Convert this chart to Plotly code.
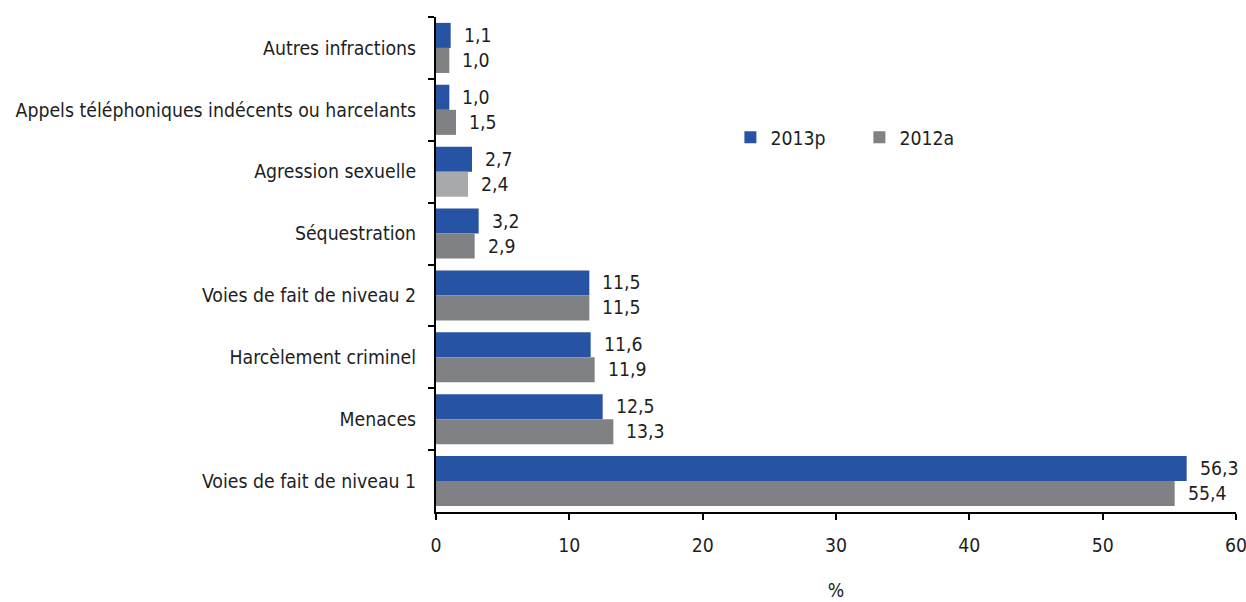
import plotly.graph_objects as go

# Categories from top to bottom
categories = [
    "Autres infractions",
    "Appels téléphoniques indécents ou harcelants",
    "Agression sexuelle",
    "Séquestration",
    "Voies de fait de niveau 2",
    "Harcèlement criminel",
    "Menaces",
    "Voies de fait de niveau 1",
]
values_2013p = [1.1, 1.0, 2.7, 3.2, 11.5, 11.6, 12.5, 56.3]
values_2012a = [1.0, 1.5, 2.4, 2.9, 11.5, 11.9, 13.3, 55.4]
x_ticks = [0, 10, 20, 30, 40, 50, 60]

BLUE = "#2653A4"
GREY = "#808184"
LIGHT_GREY = "#A8A9AC"
FONT = "DejaVu Sans Condensed, Liberation Sans Narrow, Arial Narrow, sans-serif"
TEXT = "#1e1e1e"
FS = 19.3

W, H = 1246, 602
M_L, M_R, M_T, M_B = 436, 10, 17, 90
BARGAP = 0.19

grey_colors = [LIGHT_GREY if c == "Agression sexuelle" else GREY for c in categories]

fig = go.Figure()
fig.add_trace(go.Bar(
    name="2013p", y=categories, x=values_2013p, orientation="h",
    marker=dict(color=BLUE, line=dict(width=0)),
))
fig.add_trace(go.Bar(
    name="2012a", y=categories, x=values_2012a, orientation="h",
    marker=dict(color=grey_colors, line=dict(width=0)),
))

# Value labels placed just past the end of each bar
plot_h = H - M_T - M_B
bar_px = plot_h / len(categories) * (1 - BARGAP) / 2
annotations = []
for vals, shift in ((values_2013p, bar_px / 2), (values_2012a, -bar_px / 2)):
    for cat, v in zip(categories, vals):
        annotations.append(dict(
            x=v, y=cat, xref="x", yref="y",
            text=f"{v:.1f}".replace(".", ","),
            showarrow=False, xanchor="left", yanchor="middle",
            xshift=11, yshift=shift,
            font=dict(family=FONT, size=FS, color=TEXT),
        ))

fig.update_layout(
    width=W, height=H,
    margin=dict(l=M_L, r=M_R, t=M_T, b=M_B, autoexpand=False),
    barmode="group", bargap=BARGAP, bargroupgap=0,
    plot_bgcolor="white", paper_bgcolor="white",
    font=dict(family=FONT, size=FS, color=TEXT),
    showlegend=True,
    legend=dict(
        orientation="h", x=0.368, y=0.756, xanchor="left", yanchor="middle",
        font=dict(family=FONT, size=FS, color=TEXT),
        itemwidth=30, entrywidth=84, bgcolor="rgba(0,0,0,0)",
    ),
    annotations=annotations,
    xaxis=dict(
        range=[0, 60], tickvals=x_ticks, ticktext=[str(t) for t in x_ticks],
        showgrid=False, zeroline=False, automargin=False,
        showline=True, linecolor="black", linewidth=2,
        ticks="outside", ticklen=6, tickwidth=2, tickcolor="black",
        ticklabelstandoff=9, ticklabeloverflow="allow",
        title=dict(text="%", standoff=32, font=dict(family=FONT, size=FS, color=TEXT)),
        fixedrange=True,
    ),
    yaxis=dict(
        autorange="reversed", categoryorder="array", categoryarray=categories,
        showgrid=False, zeroline=False, automargin=False,
        showline=True, linecolor="black", linewidth=2,
        ticks="outside", ticklen=6, tickwidth=2, tickcolor="black",
        tickson="boundaries", ticklabelstandoff=14, ticklabeloverflow="allow",
        fixedrange=True,
    ),
)

fig.write_html("out.html")
